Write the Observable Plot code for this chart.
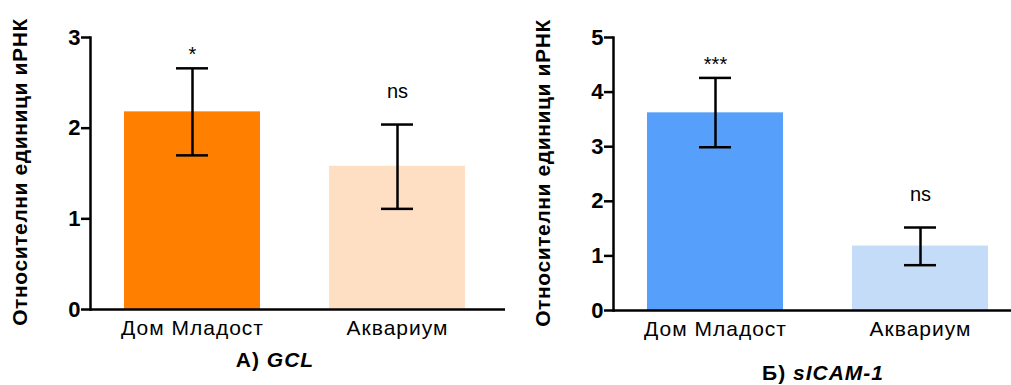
<!DOCTYPE html>
<html>
<head>
<meta charset="utf-8">
<script src="https://cdn.jsdelivr.net/npm/d3@7"></script>
<script src="https://cdn.jsdelivr.net/npm/@observablehq/plot@0.6"></script>
<style>
  body { margin: 0; background: #fff; }
  #wrap { position: relative; width: 1011px; height: 385px; overflow: hidden; font-family: "Liberation Sans", Arial, sans-serif; }
  .panel { position: absolute; top: 0; }
  .ytitle { position: absolute; width: 400px; text-align: center; font-weight: bold; font-size: 21px; letter-spacing: 0.6px; line-height: 22px; transform: rotate(-90deg); transform-origin: 50% 50%; white-space: nowrap; color: #000; }
  .xtitle { position: absolute; width: 300px; text-align: center; font-weight: bold; font-size: 21px; letter-spacing: 1px; line-height: 22px; white-space: nowrap; color: #000; }
  svg g[aria-label="y-axis tick label"] text { font-weight: bold; font-size: 22px; }
  svg g[aria-label="x-axis tick label"] text { letter-spacing: 1px; }
</style>
</head>
<body>
<div id="wrap">
  <div id="p1" class="panel" style="left:0px"></div>
  <div id="p2" class="panel" style="left:510px"></div>
  <div class="ytitle" style="left:-180px; top:161px">Относителни единици иРНК</div>
  <div class="ytitle" style="left:343px; top:162px">Относителни единици иРНК</div>
  <div class="xtitle" style="left:125px; top:349px">А) <i>GCL</i></div>
  <div class="xtitle" style="left:673px; top:362px">Б) <i>sICAM-1</i></div>
</div>
<script>
// Categories
const groups = ["Дом Младост", "Аквариум"];

// Panel A: GCL
const gclMean = [2.18, 1.58];
const gclLow  = [1.70, 1.11];
const gclHigh = [2.66, 2.04];
const gclSig  = ["*", "ns"];
const gclColors = ["#FF8000", "#FFDFC3"];
const gclTicks = [0, 1, 2, 3];

// Panel Б: sICAM-1
const icamMean = [3.62, 1.18];
const icamLow  = [2.99, 0.83];
const icamHigh = [4.26, 1.52];
const icamSig  = ["***", "ns"];
const icamColors = ["#569FFA", "#C5DCF8"];
const icamTicks = [0, 1, 2, 3, 4, 5];

function build(mean, low, high, sig) {
  return groups.map((g, i) => ({group: g, mean: mean[i], lo: low[i], hi: high[i], sig: sig[i]}));
}

function panel({data, colors, ticks, ymax, width, marginLeft, xRange, marginBottom}) {
  const stars = data.filter(d => d.sig !== "ns");
  const ns = data.filter(d => d.sig === "ns");
  return Plot.plot({
    width,
    height: 340,
    marginLeft,
    marginRight: 0,
    marginTop: 37,
    marginBottom,
    style: {fontFamily: "'Liberation Sans', Arial, sans-serif", fontSize: "20px", color: "#000", background: "transparent", overflow: "visible"},
    x: {domain: groups, range: xRange, paddingInner: 0.335, paddingOuter: 0.165},
    y: {domain: [0, ymax]},
    color: {domain: groups, range: colors},
    marks: [
      Plot.barY(data, {x: "group", y: "mean", fill: "group"}),
      Plot.ruleX(data, {x: "group", y1: "lo", y2: "hi", stroke: "#000", strokeWidth: 2.5}),
      Plot.tickY(data, {x: "group", y: "hi", stroke: "#000", strokeWidth: 2.5, insetLeft: 52, insetRight: 52}),
      Plot.tickY(data, {x: "group", y: "lo", stroke: "#000", strokeWidth: 2.5, insetLeft: 52, insetRight: 52}),
      Plot.text(stars, {x: "group", y: "hi", text: "sig", lineAnchor: "bottom", dy: -7, fontSize: 20}),
      Plot.text(ns, {x: "group", y: "hi", text: "sig", lineAnchor: "bottom", dy: -27, fontSize: 20}),
      Plot.axisY({ticks, tickSize: 9, tickPadding: 1, fontWeight: "bold", fontSize: 22, label: null, strokeWidth: 2.5, tickFormat: d3.format("d")}),
      Plot.axisX({tickSize: 0, tickPadding: 11, fontSize: 21, label: null}),
      Plot.frame({anchor: "left", stroke: "#000", strokeWidth: 2.5}),
      Plot.ruleY([0], {stroke: "#000", strokeWidth: 2.5})
    ]
  });
}

document.getElementById("p1").appendChild(panel({
  data: build(gclMean, gclLow, gclHigh, gclSig),
  colors: gclColors, ticks: gclTicks, ymax: 3,
  width: 505, marginLeft: 90, xRange: [90, 500], marginBottom: 31
}));
document.getElementById("p2").appendChild(panel({
  data: build(icamMean, icamLow, icamHigh, icamSig),
  colors: icamColors, ticks: icamTicks, ymax: 5,
  width: 501, marginLeft: 103, xRange: [103, 512.6], marginBottom: 30
}));
</script>
</body>
</html>
